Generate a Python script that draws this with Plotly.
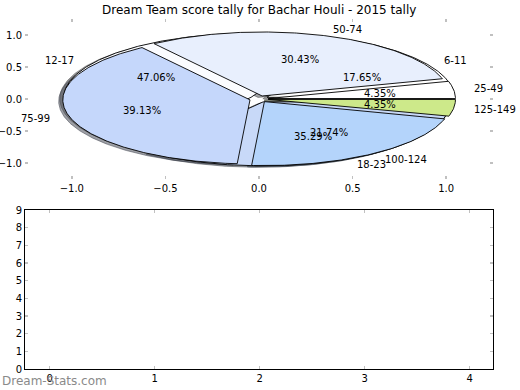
import numpy as np
import plotly.graph_objects as go

# ---- data ----
title = "Dream Team score tally for Bachar Houli - 2015 tally"
pieA_labels = ["6-11", "12-17", "18-23"]
pieA_values = [3, 8, 6]
pieA_colors = ["#ffffff", "#fbfcff", "#c8d9f8"]

pieB_labels = ["25-49", "50-74", "75-99", "100-124", "125-149"]
pieB_values = [1, 7, 9, 5, 1]
pieB_colors = ["#ffffff", "#e8effd", "#c5d7fb", "#b4d4fb", "#cde98a"]

bottom_xticks = [0, 1, 2, 3, 4]
bottom_yticks = list(range(0, 10))
top_ticks = [-1.0, -0.5, 0.0, 0.5, 1.0]

EXPLODE = 0.05
SHADOW = -0.022
FONT = "DejaVu Sans"
TICKGRAY = "#c0c0c0"


def hex_rgb(h):
    h = h.lstrip("#")
    return tuple(int(h[i:i + 2], 16) for i in (0, 2, 4))


def wedges(values):
    total = float(sum(values))
    out = []
    start = 0.0
    for v in values:
        frac = v / total
        t1 = start * 360.0
        t2 = (start + frac) * 360.0
        mid = np.deg2rad((t1 + t2) / 2)
        cx, cy = EXPLODE * np.cos(mid), EXPLODE * np.sin(mid)
        th = np.deg2rad(np.linspace(t1, t2, max(8, int((t2 - t1) * 2))))
        xs = np.concatenate([[cx], cx + np.cos(th), [cx]])
        ys = np.concatenate([[cy], cy + np.sin(th), [cy]])
        out.append((xs, ys, cx, cy, mid, frac))
        start += frac
    return out


fig = go.Figure()

wA = wedges(pieA_values)
wB = wedges(pieB_values)

# shadows (drawn under every wedge)
for ws, cols in ((wA, pieA_colors), (wB, pieB_colors)):
    for (xs, ys, cx, cy, mid, frac), c in zip(ws, cols):
        r, g, b = [int(0.3 * v) for v in hex_rgb(c)]
        fig.add_trace(go.Scatter(
            x=xs + SHADOW, y=ys + SHADOW, mode="lines", fill="toself",
            fillcolor=f"rgba({r},{g},{b},0.5)",
            line=dict(color=f"rgba({r},{g},{b},0.5)", width=1),
            hoverinfo="skip", showlegend=False, xaxis="x", yaxis="y"))

# wedges
for ws, cols in ((wA, pieA_colors), (wB, pieB_colors)):
    for (xs, ys, cx, cy, mid, frac), c in zip(ws, cols):
        fig.add_trace(go.Scatter(
            x=xs, y=ys, mode="lines", fill="toself", fillcolor=c,
            line=dict(color="black", width=0.9),
            hoverinfo="skip", showlegend=False, xaxis="x", yaxis="y"))

# texts
annotations = []
for ws, labels in ((wA, pieA_labels), (wB, pieB_labels)):
    for (xs, ys, cx, cy, mid, frac), lab in zip(ws, labels):
        xt = cx + 1.1 * np.cos(mid)
        yt = cy + 1.1 * np.sin(mid)
        annotations.append(dict(
            x=xt, y=yt, xref="x", yref="y", text=lab, showarrow=False,
            xanchor="left" if xt > 0 else "right", yanchor="middle",
            font=dict(family=FONT, size=10, color="black")))
        xp = cx + 0.6 * np.cos(mid)
        yp = cy + 0.6 * np.sin(mid)
        annotations.append(dict(
            x=xp, y=yp, xref="x", yref="y", text="%1.2f%%" % (frac * 100),
            showarrow=False, xanchor="center", yanchor="middle",
            font=dict(family=FONT, size=10, color="black")))

annotations.append(dict(
    x=259 / 520, y=1 - 10 / 390, xref="paper", yref="paper", text=title,
    showarrow=False, xanchor="center", yanchor="middle",
    font=dict(family=FONT, size=12, color="black")))
annotations.append(dict(
    x=0, y=0, xref="paper", yref="paper", text="Dream-Stats.com",
    showarrow=False, xanchor="left", yanchor="bottom",
    font=dict(family=FONT, size=12, color="#8a8a8a")))

xd = [25 / 520, 493 / 520]
tick_common = dict(ticks="inside", ticklen=3, tickwidth=1.5, tickcolor=TICKGRAY,
                   showgrid=False, zeroline=False, automargin=False,
                   tickfont=dict(family=FONT, size=10, color="black"))

fig.update_layout(
    width=520, height=390, margin=dict(l=0, r=0, t=0, b=0, pad=0),
    paper_bgcolor="white", plot_bgcolor="white",
    showlegend=False,
    annotations=annotations,
    xaxis=dict(domain=xd, range=[-1.25, 1.25], anchor="y",
               tickvals=top_ticks, tickformat=".1f",
               showline=True, linecolor="rgba(0,0,0,0)", mirror="ticks",
               **tick_common),
    yaxis=dict(domain=[1 - 179 / 390, 1 - 19 / 390], range=[-1.25, 1.25],
               anchor="x", tickvals=top_ticks, tickformat=".1f",
               showline=True, linecolor="rgba(0,0,0,0)", mirror="ticks",
               **tick_common),
    xaxis2=dict(domain=xd, range=[-0.235, 4.222], anchor="y2",
                tickvals=bottom_xticks,
                showline=True, linecolor="black", linewidth=1, mirror="ticks",
                **tick_common),
    yaxis2=dict(domain=[1 - 369 / 390, 1 - 210 / 390], range=[0, 9],
                anchor="x2", tickvals=bottom_yticks,
                showline=True, linecolor="black", linewidth=1, mirror="ticks",
                **tick_common),
)

# empty trace on bottom axes so they render
fig.add_trace(go.Scatter(x=[], y=[], xaxis="x2", yaxis="y2", showlegend=False))

fig.write_html(
    "out.html",
    config={"displayModeBar": False, "staticPlot": True},
    post_script="document.body.style.margin='0';document.body.style.padding='0';",
)
